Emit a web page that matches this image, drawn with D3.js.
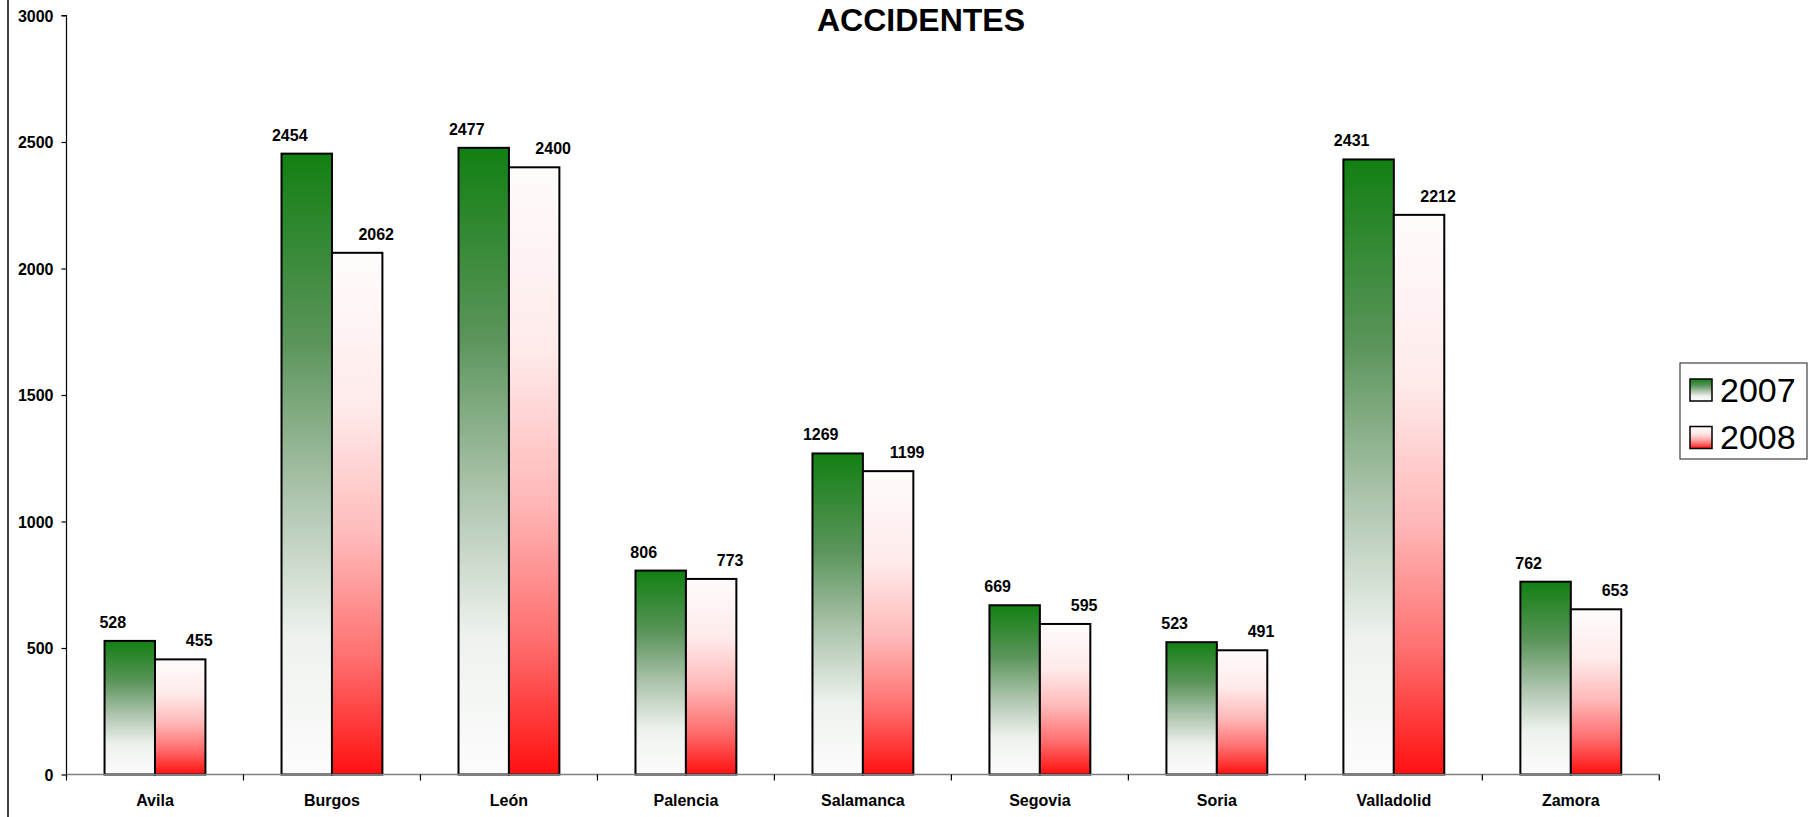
<!DOCTYPE html>
<html>
<head>
<meta charset="utf-8">
<script src="https://cdn.jsdelivr.net/npm/d3@7"></script>
<style>
html,body{margin:0;padding:0;background:#fff;}
svg{display:block;font-family:Arial,"Liberation Sans",sans-serif;}
</style>
</head>
<body>
<svg id="chart" width="1813" height="817"></svg>
<script>
const categories = ["Avila","Burgos","León","Palencia","Salamanca","Segovia","Soria","Valladolid","Zamora"];
const seriesNames = ["2007","2008"];
const values2007 = [528,2454,2477,806,1269,669,523,2431,762];
const values2008 = [455,2062,2400,773,1199,595,491,2212,653];
const yTicks = [0,500,1000,1500,2000,2500,3000];
const title = "ACCIDENTES";

const W = 1813, H = 817;
const svg = d3.select("#chart");
const margin = {left:66.5, right:1813-1659.3, top:15.5, bottom:817-774.5};

const x = d3.scaleBand().domain(categories).range([margin.left, W - margin.right]).paddingInner(0.43).paddingOuter(0.215);
const xs = d3.scaleBand().domain(seriesNames).range([0, x.bandwidth()]);
const y = d3.scaleLinear().domain([0,3000]).range([H - margin.bottom, margin.top]);

const defs = svg.append("defs");
const g1 = defs.append("linearGradient").attr("id","grad2007").attr("x1",0).attr("y1",0).attr("x2",0).attr("y2",1);
[[0,"#128012"],[0.3,"#5a945a"],[0.55,"#adc4ad"],[0.78,"#eef2ee"],[1,"#fcfcfc"]].forEach(s=>g1.append("stop").attr("offset",s[0]).attr("stop-color",s[1]));
const g2 = defs.append("linearGradient").attr("id","grad2008").attr("x1",0).attr("y1",0).attr("x2",0).attr("y2",1);
[[0,"#fffcfc"],[0.3,"#ffeaea"],[0.55,"#ffb8b8"],[0.78,"#ff6e6e"],[1,"#ff1010"]].forEach(s=>g2.append("stop").attr("offset",s[0]).attr("stop-color",s[1]));

// left frame line
svg.append("line").attr("x1",8).attr("x2",8).attr("y1",0).attr("y2",H).attr("stroke","#000").attr("stroke-width",1.5);

// title
svg.append("text").attr("x",921).attr("y",31).attr("text-anchor","middle")
  .attr("font-size",32).attr("font-weight","bold").text(title);

// Y axis
const yAxis = d3.axisLeft(y).tickValues(yTicks).tickSize(5).tickPadding(8).tickFormat(d3.format("d"));
const ya = svg.append("g").attr("transform",`translate(${margin.left},0)`).call(yAxis);
ya.select(".domain").attr("stroke","#000").attr("stroke-width",1.2).attr("d",`M-5,${y(3000)}H0V${y(0)}`);
ya.selectAll(".tick line").attr("stroke","#000").attr("stroke-width",1.2);
ya.selectAll(".tick text").attr("font-size",16).attr("font-weight","bold").attr("fill","#000")
  .attr("font-family","Arial, 'Liberation Sans', sans-serif").attr("dy","0.36em");

// bars
const data = categories.map((c,i)=>({cat:c, vals:[{s:"2007",v:values2007[i]},{s:"2008",v:values2008[i]}]}));
const groups = svg.append("g").selectAll("g").data(data).join("g")
  .attr("transform",d=>`translate(${x(d.cat)},0)`);
groups.selectAll("rect").data(d=>d.vals).join("rect")
  .attr("x",d=>xs(d.s)).attr("width",xs.bandwidth())
  .attr("y",d=>y(d.v)).attr("height",d=>y(0)-y(d.v))
  .attr("fill",d=>`url(#grad${d.s})`).attr("stroke","#000").attr("stroke-width",2);
groups.selectAll("text").data(d=>d.vals).join("text")
  .attr("x",d=>xs(d.s)+xs.bandwidth()/2 + (d.s==="2007"?-17:19))
  .attr("y",d=>y(d.v)-13)
  .attr("text-anchor","middle").attr("font-size",16).attr("font-weight","bold").text(d=>d.v);

// X axis
const xAxisG = svg.append("g").attr("transform",`translate(0,${y(0)})`);
xAxisG.append("line").attr("x1",margin.left).attr("x2",W-margin.right).attr("stroke","#808080").attr("stroke-width",1.5);
const bounds = categories.map(c=>x(c)-x.step()*x.paddingInner()/2).concat([W-margin.right]);
xAxisG.selectAll("line.tk").data(bounds).join("line").attr("class","tk")
  .attr("x1",d=>d).attr("x2",d=>d).attr("y1",0).attr("y2",6).attr("stroke","#000").attr("stroke-width",1.2);
xAxisG.selectAll("text").data(categories).join("text")
  .attr("x",d=>x(d)+x.bandwidth()/2).attr("y",31.5).attr("text-anchor","middle")
  .attr("font-size",16).attr("font-weight","bold").text(d=>d);

// legend
const lg = svg.append("g");
lg.append("rect").attr("x",1680).attr("y",363).attr("width",127).attr("height",96)
  .attr("fill","#fff").attr("stroke","#404040").attr("stroke-width",1.2);
seriesNames.forEach((s,i)=>{
  lg.append("rect").attr("x",1690).attr("y",379+i*47.5).attr("width",22).attr("height",22)
    .attr("fill",`url(#grad${s})`).attr("stroke","#000").attr("stroke-width",1.5);
  lg.append("text").attr("x",1720).attr("y",402+i*47).attr("font-size",34).text(s);
});
</script>
</body>
</html>
